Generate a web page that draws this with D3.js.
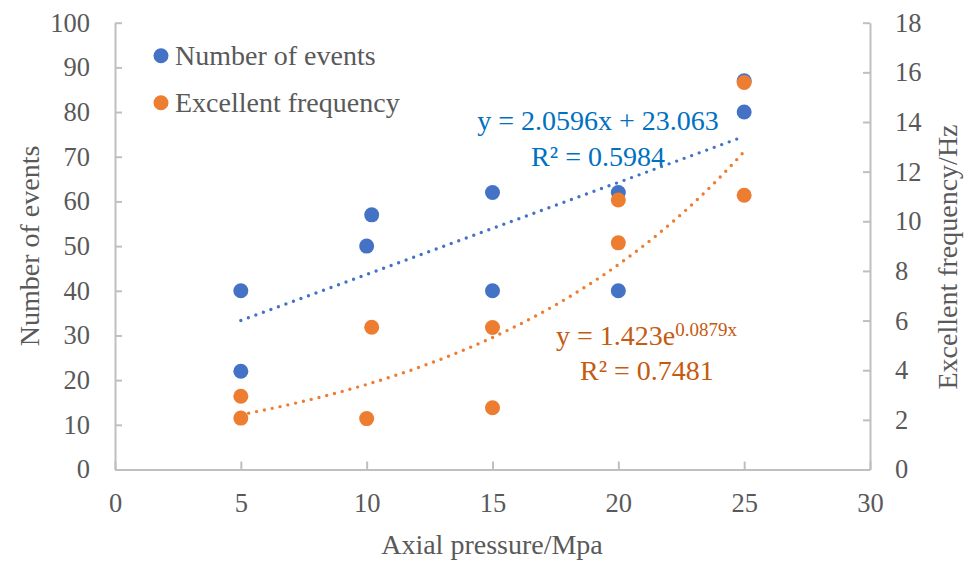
<!DOCTYPE html>
<html><head><meta charset="utf-8">
<script src="https://cdn.jsdelivr.net/npm/d3@7"></script>
<style>
html,body{margin:0;padding:0;background:#fff;}
svg text{font-family:"Liberation Serif","Times New Roman",serif;}
</style></head>
<body><svg id="c" width="970" height="563"></svg>
<script>
// Data
const eventX = [5, 5, 10, 10.2, 15, 15, 20, 20, 25, 25];
const eventY = [40, 22, 50, 57, 62, 40, 62, 40, 87, 80];
const freqX = [5, 5, 10, 10.2, 15, 15, 20, 20, 25, 25];
const freqY = [2.07, 2.95, 2.05, 5.73, 5.72, 2.49, 10.86, 9.13, 15.59, 11.05];
const xTicks = [0, 5, 10, 15, 20, 25, 30];
const yLeftTicks = [0, 10, 20, 30, 40, 50, 60, 70, 80, 90, 100];
const yRightTicks = [0, 2, 4, 6, 8, 10, 12, 14, 16, 18];
const linFit = {a: 2.0596, b: 23.063, r2: "0.5984"};
const expFit = {a: 1.423, k: 0.0879, r2: "0.7481"};
const fitRange = [5, 25];
const seriesNames = ["Number of events", "Excellent frequency"];

const BLUE = "#4472C4", ORANGE = "#ED7D31", AXIS = "#BFBFBF", TXT = "#595959";
const svg = d3.select("#c");
const L = 115, R = 870, T = 22.7, B = 469.5;
const x = d3.scaleLinear().domain([0, 30]).range([L, R]);
const y = d3.scaleLinear().domain([0, 100]).range([B, T]);
const y2 = d3.scaleLinear().domain([0, 18]).range([B, T]);

function styleAxis(g) {
  g.selectAll("path.domain").attr("stroke", AXIS).attr("stroke-width", 2);
  g.selectAll(".tick line").attr("stroke", AXIS).attr("stroke-width", 2);
  g.selectAll(".tick text").attr("fill", TXT).style("font-size", "26.5px")
    .style("font-family", '"Liberation Serif","Times New Roman",serif');
}

svg.append("g").attr("transform", `translate(${L},0)`)
  .call(d3.axisLeft(y).tickValues(yLeftTicks).tickSizeInner(-7).tickSizeOuter(0).tickPadding(25))
  .call(styleAxis);
svg.append("g").attr("transform", `translate(${R},0)`)
  .call(d3.axisRight(y2).tickValues(yRightTicks).tickSizeInner(-7).tickSizeOuter(0).tickPadding(25))
  .call(styleAxis);
svg.append("g").attr("transform", `translate(0,${B})`)
  .call(d3.axisBottom(x).tickValues(xTicks).tickSizeInner(-8).tickSizeOuter(0).tickPadding(24))
  .call(styleAxis);

// Trendlines
const xs = d3.range(fitRange[0], fitRange[1] + 0.0001, 0.25);
const lineLin = d3.line().x(d => x(d)).y(d => y(linFit.a * d + linFit.b));
const lineExp = d3.line().x(d => x(d)).y(d => y2(expFit.a * Math.exp(expFit.k * d)));
svg.append("path").attr("d", lineLin(xs)).attr("fill", "none").attr("stroke", BLUE)
  .attr("stroke-width", 3.4).attr("stroke-linecap", "round").attr("stroke-dasharray", "0 8");
svg.append("path").attr("d", lineExp(xs)).attr("fill", "none").attr("stroke", ORANGE)
  .attr("stroke-width", 3.4).attr("stroke-linecap", "round").attr("stroke-dasharray", "0 8");

// Points
svg.append("g").selectAll("circle").data(eventX.map((d, i) => [d, eventY[i]])).join("circle")
  .attr("cx", d => x(d[0])).attr("cy", d => y(d[1])).attr("r", 7.5).attr("fill", BLUE);
svg.append("g").selectAll("circle").data(freqX.map((d, i) => [d, freqY[i]])).join("circle")
  .attr("cx", d => x(d[0])).attr("cy", d => y2(d[1])).attr("r", 7.5).attr("fill", ORANGE);

// Equations
const eq = svg.append("g").style("font-size", "28px");
eq.append("text").attr("x", 598).attr("y", 130).attr("text-anchor", "middle").attr("fill", "#0070C0")
  .text(`y = ${linFit.a}x + ${linFit.b}`);
eq.append("text").attr("x", 598).attr("y", 166).attr("text-anchor", "middle").attr("fill", "#0070C0")
  .text(`R² = ${linFit.r2}`);
const t3 = eq.append("text").attr("x", 556).attr("y", 345).attr("fill", "#C55A11");
t3.append("tspan").text(`y = ${expFit.a}e`);
t3.append("tspan").attr("dy", -9).style("font-size", "19px").text(`${expFit.k}x`);
eq.append("text").attr("x", 580).attr("y", 380).attr("fill", "#C55A11").text(`R² = ${expFit.r2}`);

// Legend
const leg = svg.append("g");
[[BLUE, 55.7, 65], [ORANGE, 102.7, 112]].forEach((c, i) => {
  leg.append("circle").attr("cx", 161).attr("cy", c[1]).attr("r", 7.5).attr("fill", c[0]);
  leg.append("text").attr("x", 175).attr("y", c[2]).attr("fill", TXT).style("font-size", "28px").text(seriesNames[i]);
});

// Axis titles
svg.append("text").attr("x", 492).attr("y", 554).attr("text-anchor", "middle").attr("fill", TXT)
  .style("font-size", "28px").text("Axial pressure/Mpa");
svg.append("text").attr("transform", "translate(39,246) rotate(-90)").attr("text-anchor", "middle")
  .attr("fill", TXT).style("font-size", "28px").text("Number of events");
svg.append("text").attr("transform", "translate(957,257) rotate(-90)").attr("text-anchor", "middle")
  .attr("fill", TXT).style("font-size", "28px").text("Excellent frequency/Hz");
</script></body></html>
